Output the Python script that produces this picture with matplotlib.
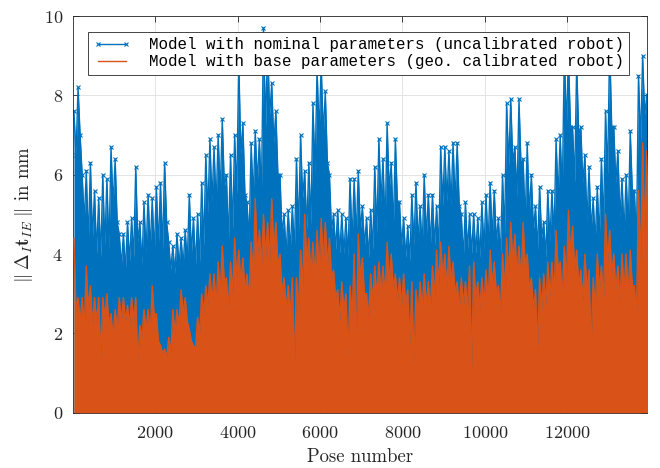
import numpy as np
import matplotlib
matplotlib.use('Agg')
import matplotlib.pyplot as plt
from matplotlib.lines import Line2D

plt.rcParams['font.family'] = 'cmr10'
plt.rcParams['mathtext.fontset'] = 'cm'
plt.rcParams['axes.formatter.use_mathtext'] = True

# Pose bins (100 poses each), values read per bin as max / min of the error
pose_bin = np.arange(0, 14000, 100)

nominal_max = [
    7.6, 8.2, 6.0, 6.1, 6.3, 5.6, 5.4, 6.0, 5.9, 6.7,
    6.4, 4.5, 4.5, 4.8, 4.9, 6.2, 4.8, 5.3, 5.5, 5.4,
    5.7, 5.8, 6.3, 4.3, 4.2, 4.5, 4.4, 4.6, 5.5, 4.9,
    5.0, 5.8, 6.5, 6.9, 6.7, 7.0, 7.4, 6.0, 6.5, 7.0,
    8.9, 7.3, 5.3, 6.8, 7.1, 6.9, 9.7, 9.3, 8.3, 7.6,
    6.0, 5.0, 5.1, 5.2, 6.4, 7.0, 6.1, 6.3, 7.8, 8.7,
    8.8, 8.1, 6.0, 5.0, 5.1, 5.0, 4.9, 5.9, 5.9, 6.1,
    5.2, 4.9, 5.1, 6.2, 6.9, 6.4, 7.3, 6.3, 6.9, 5.3,
    4.9, 4.7, 5.5, 5.8, 5.2, 6.0, 5.5, 5.5, 5.2, 6.7,
    6.7, 6.6, 6.8, 6.8, 5.0, 5.3, 5.0, 5.0, 4.9, 5.3,
    5.5, 5.8, 5.6, 4.9, 6.0, 7.8, 7.9, 6.7, 7.9, 6.4,
    6.8, 6.0, 5.2, 5.7, 4.8, 5.6, 5.6, 6.9, 7.0, 9.1,
    9.0, 7.2, 8.8, 7.2, 6.5, 6.2, 5.4, 5.7, 6.4, 7.6,
    9.3, 7.2, 6.6, 5.9, 6.0, 7.1, 5.6, 8.5, 9.0, 8.0,
]
nominal_min = [
    6.5, 7.0, 4.8, 4.3, 4.4, 4.0, 3.9, 4.2, 4.1, 5.2,
    4.8, 3.7, 3.6, 3.8, 3.9, 4.3, 3.7, 4.0, 4.1, 4.0,
    4.2, 4.1, 4.8, 3.6, 3.5, 3.7, 3.7, 3.8, 4.0, 3.7,
    3.8, 4.2, 5.0, 5.3, 5.2, 5.5, 5.7, 4.3, 4.6, 5.5,
    6.5, 5.5, 4.3, 5.4, 5.8, 5.5, 7.2, 7.5, 6.8, 6.0,
    4.5, 4.0, 4.1, 4.1, 4.6, 5.4, 4.6, 4.7, 6.0, 7.0,
    7.0, 6.3, 4.6, 4.1, 4.0, 4.0, 3.9, 4.3, 4.4, 4.6,
    4.2, 3.9, 4.1, 4.5, 5.3, 4.6, 5.6, 4.6, 5.3, 4.2,
    3.9, 3.8, 4.2, 4.3, 4.1, 4.4, 4.2, 4.2, 4.1, 5.2,
    5.3, 5.2, 5.3, 5.2, 3.9, 4.1, 4.0, 4.0, 3.9, 4.1,
    4.2, 4.4, 4.3, 3.9, 4.5, 6.2, 6.3, 5.4, 6.2, 4.8,
    5.0, 4.6, 4.1, 4.4, 3.9, 4.3, 4.4, 5.4, 5.5, 7.2,
    7.2, 5.8, 7.0, 5.8, 4.8, 4.6, 4.3, 4.4, 4.7, 6.0,
    7.2, 5.8, 4.9, 4.5, 4.6, 5.6, 4.3, 6.8, 7.5, 6.8,
]
base_max = [
    4.4, 2.9, 2.9, 3.7, 3.2, 2.9, 2.9, 2.9, 3.0, 2.5,
    2.6, 2.9, 2.9, 2.7, 2.9, 2.9, 2.2, 2.6, 2.6, 3.2,
    2.5, 1.7, 1.6, 1.9, 2.6, 2.6, 3.1, 2.9, 2.1, 1.7,
    2.4, 3.0, 3.2, 3.5, 3.5, 3.8, 4.2, 3.4, 3.8, 4.4,
    4.1, 3.9, 3.5, 4.3, 5.4, 4.6, 5.0, 4.8, 5.4, 4.8,
    4.0, 3.4, 3.2, 3.4, 3.4, 4.1, 5.0, 4.4, 4.3, 4.6,
    4.9, 4.8, 4.4, 3.6, 3.1, 3.3, 3.0, 3.2, 4.0, 4.5,
    3.9, 3.0, 3.5, 3.7, 3.8, 3.7, 4.3, 4.0, 3.5, 3.4,
    3.5, 3.1, 3.3, 3.1, 3.3, 3.5, 3.3, 3.7, 4.1, 4.3,
    4.0, 4.2, 3.8, 3.3, 3.4, 3.3, 3.7, 3.8, 3.3, 3.4,
    3.6, 4.1, 3.8, 3.2, 4.0, 4.4, 4.8, 4.5, 4.2, 4.8,
    4.0, 3.4, 3.1, 3.4, 3.5, 3.8, 3.8, 4.6, 3.8, 4.2,
    5.1, 4.7, 4.1, 3.6, 4.0, 3.6, 3.4, 4.0, 3.7, 5.0,
    4.6, 4.0, 3.7, 4.0, 4.0, 4.1, 3.2, 5.6, 6.8, 6.6,
]
base_min = [
    2.6, 2.3, 2.1, 2.6, 2.2, 2.3, 1.4, 2.4, 2.2, 1.9,
    2.1, 2.3, 2.3, 2.2, 2.3, 1.3, 1.9, 2.1, 2.0, 2.4,
    1.8, 1.5, 1.4, 1.5, 2.0, 2.2, 2.5, 2.3, 1.8, 1.6,
    2.0, 2.5, 2.7, 2.8, 2.7, 3.0, 3.3, 2.6, 3.0, 3.4,
    3.3, 3.1, 2.8, 3.4, 3.9, 3.7, 3.9, 3.8, 4.1, 3.7,
    3.0, 2.6, 2.5, 1.1, 2.6, 3.2, 3.8, 3.5, 3.4, 3.6,
    3.8, 3.7, 3.4, 2.9, 2.3, 2.6, 1.4, 2.4, 1.55, 3.4,
    3.0, 2.4, 2.8, 2.9, 3.0, 2.9, 3.3, 3.1, 2.8, 2.7,
    2.7, 1.7, 1.2, 2.5, 2.6, 2.7, 2.6, 2.9, 3.2, 3.4,
    3.1, 3.3, 3.0, 2.6, 2.7, 2.6, 1.1, 2.9, 2.6, 2.7,
    2.8, 3.2, 3.0, 2.5, 3.1, 3.5, 3.8, 3.5, 3.3, 3.7,
    3.1, 2.6, 1.6, 2.6, 2.7, 2.9, 2.9, 3.6, 2.9, 3.3,
    4.0, 3.6, 3.2, 2.8, 3.1, 1.6, 2.6, 3.1, 2.8, 3.8,
    3.5, 3.1, 2.8, 3.1, 3.0, 3.2, 2.4, 3.8, 4.5, 4.8,
]

labels = ['Model with nominal parameters (uncalibrated robot)',
          'Model with base parameters (geo. calibrated robot)']

blue = '#0072BD'
orange = '#D95319'

# max then min inside every bin
x = np.column_stack([pose_bin + 30, pose_bin + 80]).ravel()
y_nom = np.column_stack([nominal_max, nominal_min]).ravel()
y_base = np.column_stack([base_max, base_min]).ravel()

fig = plt.figure(figsize=(6.6, 4.68), dpi=100)
ax = fig.add_axes([0.1102, 0.1182, 0.8697, 0.8476])

ax.fill_between(x, 0, y_nom, color=blue, lw=0, zorder=2)
ax.plot(x, y_nom, color=blue, lw=1.0, marker='x', ms=3, mew=0.8, zorder=2)
ax.fill_between(x, 0, y_base, color=orange, lw=0, zorder=3)
ax.plot(x, y_base, color=orange, lw=1.0, zorder=3)

ax.set_xlim(1, 13930)
ax.set_ylim(0, 10)
ax.set_xticks(np.arange(2000, 13000, 2000))
ax.set_yticks(np.arange(0, 11, 2))
ax.tick_params(direction='in', top=True, right=True, length=4, width=0.6,
               labelsize=13, colors='#262626')
ax.tick_params(axis='x', pad=9)
ax.tick_params(axis='y', pad=7)
for sp in ax.spines.values():
    sp.set_color('#262626')
    sp.set_linewidth(0.6)
ax.grid(True, color='#dfdfdf', lw=0.6)
ax.set_axisbelow(True)

ax.set_xlabel('Pose number', fontsize=13.5, color='#262626', labelpad=5)
ax.set_ylabel(r'$\Vert\;\Delta_{I}\mathbf{t}_{IE}\;\Vert$ in mm', fontsize=13.5,
              color='#262626', labelpad=6)

h1 = Line2D([], [], color=blue, lw=1.0, marker='x', ms=3, mew=0.8, markevery=[1])
h2 = Line2D([], [], color=orange, lw=1.0)
leg = ax.legend([h1, h2], labels, loc='upper left', bbox_to_anchor=(0.026, 0.960),
                borderaxespad=0, numpoints=2, fancybox=False, framealpha=1,
                edgecolor='#262626', handlelength=2.4, handletextpad=1.1,
                borderpad=0.35, labelspacing=0.12,
                prop={'family': 'Liberation Mono', 'size': 11.4})
leg.get_frame().set_linewidth(0.6)
leg.set_zorder(5)

fig.savefig('out.png', dpi=100)
